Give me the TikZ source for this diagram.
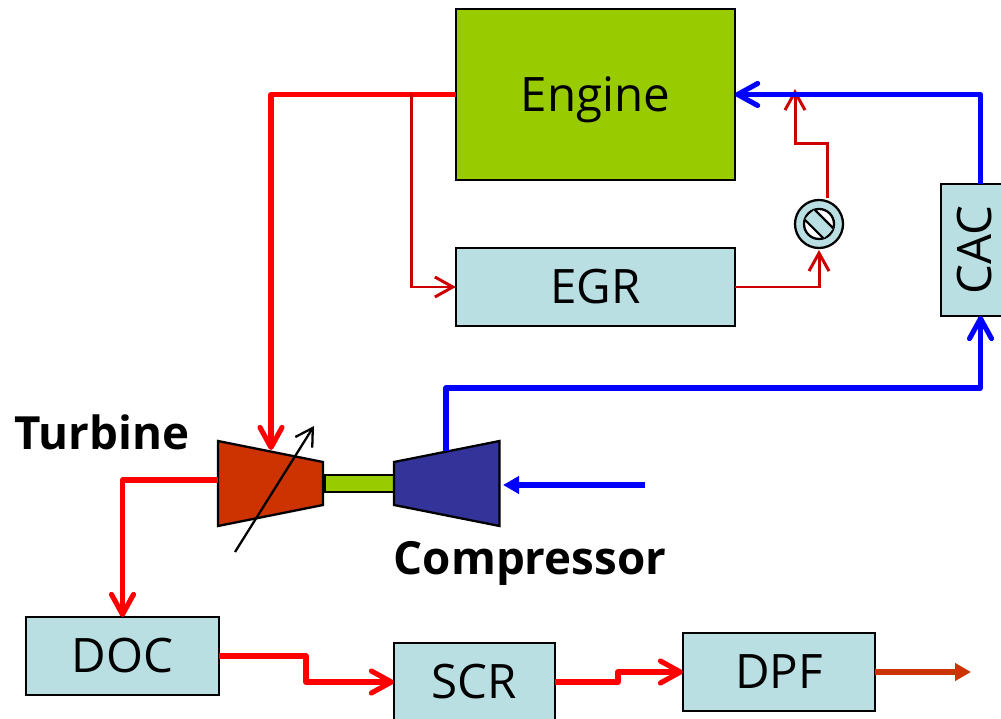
\documentclass[tikz,border=0pt]{standalone}
\usepackage{fontspec}
\setmainfont{Open Sans}
\usetikzlibrary{arrows.meta, positioning}
\definecolor{boxblue}{HTML}{B9DFE3}
\definecolor{enginegreen}{HTML}{99CC00}
\definecolor{turbred}{HTML}{CC3300}
\definecolor{compblue}{HTML}{333399}
\definecolor{egrred}{HTML}{CC0000}
\tikzset{
    unit/.style={draw=black, line width=0.65pt, fill=boxblue, outer sep=0pt, inner sep=0pt, font=\fontsize{13.5}{13.5}\selectfont},
    exhaust/.style={draw=red, line width=1.45pt, line join=round, -{Straight Barb[length=2mm, width=2.2mm, line width=1.45pt, round]}},
    intake/.style={draw=blue, line width=1.45pt, line join=round, -{Straight Barb[length=2mm, width=2.2mm, line width=1.45pt, round]}},
    recirc/.style={draw=egrred, line width=0.85pt, line join=miter, -{Straight Barb[length=1.8mm, width=2mm, line width=0.85pt]}},
    caption/.style={font=\fontsize{13}{13}\selectfont\bfseries, inner sep=0pt}
}

\begin{document}
\begin{tikzpicture}[x=0.01cm, y=-0.01cm]
                                \useasboundingbox (0, 0) rectangle (1001, 719);

                                \node[unit, fill=enginegreen, text depth=0pt, minimum width=2.79cm, minimum height=1.71cm] (engine) at (595.5, 94.5) {Engine};
                                \node[unit, minimum width=2.79cm, minimum height=0.78cm] (egr) at (595.5, 287) {EGR};
                                \node[unit, rotate=90, minimum width=1.32cm, minimum height=0.68cm] (cac) at (975, 250) {CAC};
                                \node[unit, minimum width=1.93cm, minimum height=0.78cm] (doc) at (122.5, 656) {DOC};
                                \node[unit, minimum width=1.61cm, minimum height=0.78cm] (scr) at (474.5, 682) {SCR};
                                \node[unit, minimum width=1.92cm, minimum height=0.78cm] (dpf) at (779, 672) {DPF};
                                \node[unit, circle, minimum size=0.48cm] (valve) at (819, 224) {};
                                \node[unit, fill=enginegreen, minimum width=0.69cm, minimum height=0.17cm] (shaft) at (359.5, 483.5) {};
                                \node[caption] (turbinelabel) at (102, 432) {Turbine};
                                \node[caption] (compressorlabel) at (530, 563) {Compressor};

                                \begin{scope}[shift={(valve)}]
                                    \draw[line width=0.65pt, fill=white] (0, 0) circle (15);
                                    \fill[boxblue] (-4.45, -14.35) -- (14.35, 4.45) -- (4.45, 14.35) -- (-14.35, -4.45) -- cycle;
                                    \draw[line width=0.65pt] (-4.45, -14.35) -- (14.35, 4.45);
                                    \draw[line width=0.65pt] (-14.35, -4.45) -- (4.45, 14.35);
                                \end{scope}

                                \draw[line width=0.65pt, fill=turbred] (218, 441) -- (323, 462) -- (323, 505) -- (218, 526) -- cycle;
                                \draw[line width=0.65pt, fill=compblue] (394, 462) -- (499.5, 441) -- (499.5, 526) -- (394, 505) -- cycle;

                                \coordinate (tee) at (411, 94.5);
                                \coordinate (turbinein) at (271, 450);
                                \coordinate (turbineout) at (218, 480);
                                \coordinate (compressorout) at (446, 451);
                                \coordinate (compressorin) at (503, 485);
                                \coordinate (airfeed) at (645, 485);
                                \coordinate (valveout) at (827, 198);
                                \coordinate (mixpoint) at (795, 89);
                                \coordinate (egrturn) at (819, 250);
                                \coordinate (vgtstart) at (235, 552);
                                \coordinate (vgtend) at (314, 426);
                                \coordinate (tailpipe) at (971, 672);

                                \draw[exhaust] (engine.west) -| (turbinein);
                                \draw[recirc] (tee) |- (egr.west);
                                \draw[recirc] (egr.east) -| (egrturn);
                                \draw[recirc] (valveout) |- ++(-32, -54) -- (mixpoint);
                                \draw[intake] ([xshift=0.055cm]cac.east) |- (engine.east);
                                \draw[intake] (compressorout) |- (446, 388) -| ([xshift=0.055cm]cac.west);
                                \draw[draw=blue, line width=1.45pt, -{Triangle[length=1.6mm, width=1.7mm]}] (airfeed) -- (compressorin);
                                \draw[line width=0.65pt, -{Straight Barb[length=1.7mm, width=2mm, line width=0.65pt]}] (vgtstart) -- (vgtend);
                                \draw[exhaust] (turbineout) -| (doc.north);
                                \draw[exhaust] (doc.east) -- (306, 656) |- (scr.west);
                                \draw[exhaust] (scr.east) -- (618, 682) |- (dpf.west);
                                \draw[draw=turbred, line width=1.45pt, -{Triangle[length=1.6mm, width=1.7mm]}] (dpf.east) -- (tailpipe);
                            \end{tikzpicture}
\end{document}
